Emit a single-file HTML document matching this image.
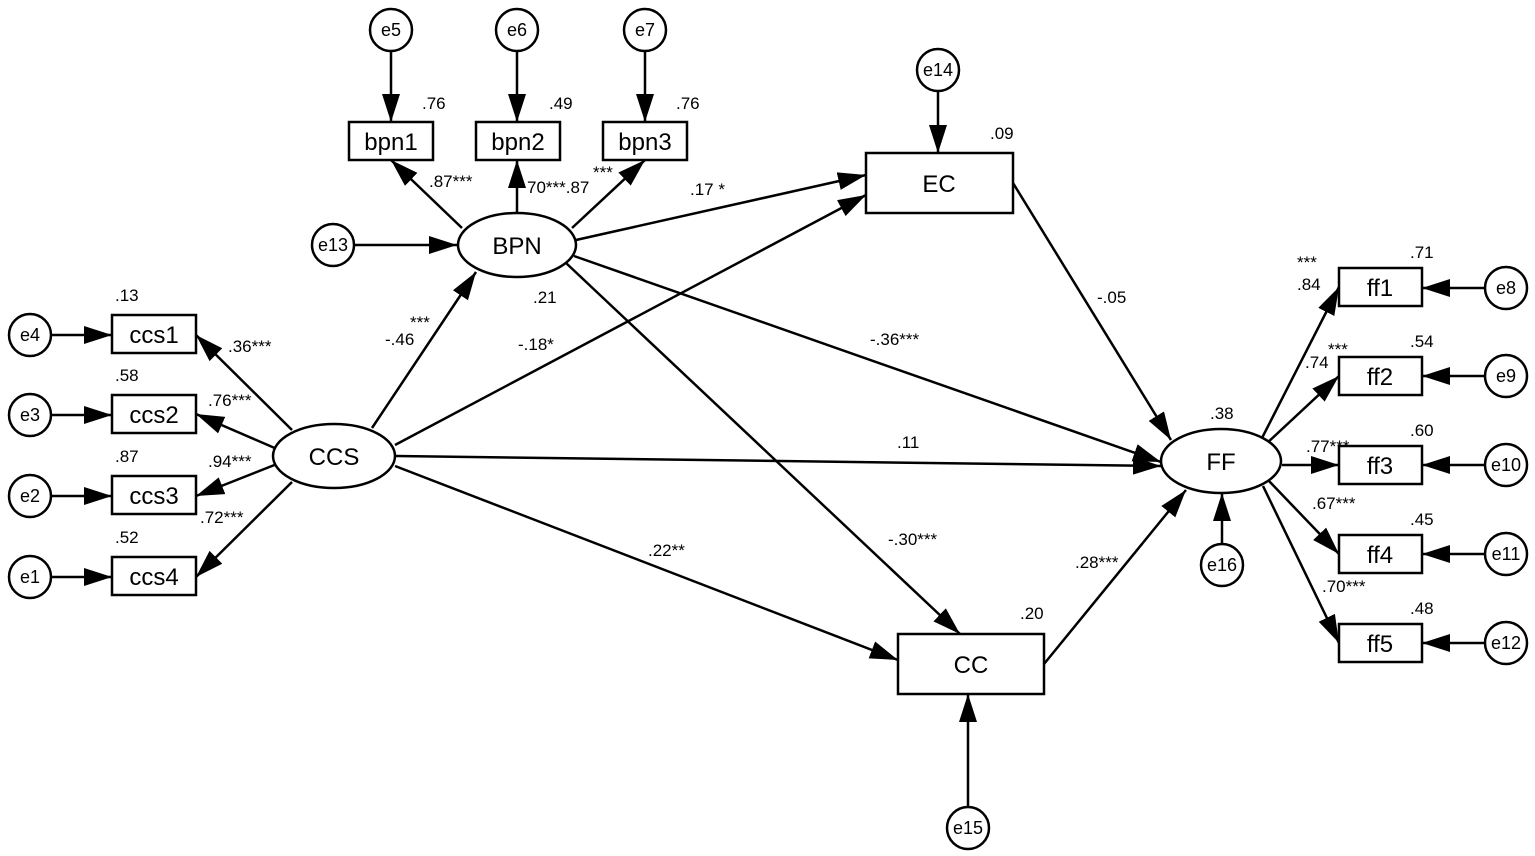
<!DOCTYPE html>
<html><head><meta charset="utf-8"><style>
html,body{margin:0;padding:0;background:#fff;}
svg{display:block;}
text{font-family:"Liberation Sans",Arial,sans-serif;fill:#000;}
.n{font-size:17px;}
.l{font-size:24px;text-anchor:middle;}
.e{font-size:18px;text-anchor:middle;}
.s{font-size:15px;}
</style></head><body>
<svg width="1535" height="856" viewBox="0 0 1535 856" xmlns="http://www.w3.org/2000/svg">
<defs>
<marker id="a" markerUnits="userSpaceOnUse" markerWidth="30" markerHeight="20" refX="28" refY="9" orient="auto">
<path d="M0,0 L28,9 L0,18 Z" fill="#000"/>
</marker>
</defs>
<g stroke="#000" stroke-width="2.5" fill="none" marker-end="url(#a)">
<!-- errors to bpn -->
<line x1="391" y1="51" x2="391" y2="122"/>
<line x1="517" y1="51" x2="517" y2="122"/>
<line x1="645" y1="51" x2="645" y2="122"/>
<line x1="938" y1="91" x2="938" y2="153"/>
<line x1="354" y1="245" x2="457" y2="245"/>
<!-- BPN to indicators -->
<line x1="462" y1="228" x2="391" y2="160"/>
<line x1="517" y1="213" x2="517" y2="160"/>
<line x1="572" y1="228" x2="645" y2="160"/>
<!-- structural -->
<line x1="576" y1="240" x2="866" y2="175"/>
<line x1="574" y1="256" x2="1161" y2="462"/>
<line x1="566" y1="263" x2="960" y2="634"/>
<line x1="372" y1="428" x2="476" y2="272"/>
<line x1="395" y1="445" x2="866" y2="195"/>
<line x1="396" y1="456" x2="1161" y2="466"/>
<line x1="395" y1="466" x2="898" y2="660"/>
<line x1="1013" y1="183" x2="1171" y2="440"/>
<line x1="1044" y1="664" x2="1186" y2="490"/>
<line x1="968" y1="806" x2="968" y2="694"/>
<line x1="1222" y1="544" x2="1222" y2="493"/>
<!-- CCS to indicators -->
<line x1="292" y1="430" x2="196" y2="335"/>
<line x1="277" y1="449" x2="196" y2="414"/>
<line x1="277" y1="464" x2="196" y2="496"/>
<line x1="292" y1="482" x2="196" y2="577"/>
<!-- e to ccs -->
<line x1="51" y1="335" x2="112" y2="335"/>
<line x1="51" y1="415" x2="112" y2="415"/>
<line x1="51" y1="496" x2="112" y2="496"/>
<line x1="51" y1="577" x2="112" y2="577"/>
<!-- FF to indicators -->
<line x1="1262" y1="438" x2="1339" y2="287"/>
<line x1="1266" y1="444" x2="1339" y2="376"/>
<line x1="1282" y1="465" x2="1339" y2="465"/>
<line x1="1268" y1="480" x2="1339" y2="554"/>
<line x1="1263" y1="486" x2="1339" y2="643"/>
<!-- e to ff -->
<line x1="1485" y1="288" x2="1422" y2="288"/>
<line x1="1485" y1="376" x2="1422" y2="376"/>
<line x1="1485" y1="465" x2="1422" y2="465"/>
<line x1="1485" y1="554" x2="1422" y2="554"/>
<line x1="1485" y1="643" x2="1422" y2="643"/>
</g>
<g stroke="#000" stroke-width="2.5" fill="#fff">
<circle cx="391" cy="30" r="21"/><circle cx="517" cy="30" r="21"/><circle cx="645" cy="30" r="21"/>
<circle cx="938" cy="70" r="21"/><circle cx="333" cy="245" r="21"/>
<circle cx="30" cy="335" r="21"/><circle cx="30" cy="415" r="21"/><circle cx="30" cy="496" r="21"/><circle cx="30" cy="577" r="21"/>
<circle cx="1506" cy="288" r="21"/><circle cx="1506" cy="376" r="21"/><circle cx="1506" cy="465" r="21"/><circle cx="1506" cy="554" r="21"/><circle cx="1506" cy="643" r="21"/>
<circle cx="1222" cy="565" r="21"/><circle cx="968" cy="828" r="21"/>
<rect x="349" y="122" width="84" height="38"/><rect x="476" y="122" width="84" height="38"/><rect x="603" y="122" width="84" height="38"/>
<rect x="866" y="153" width="147" height="60"/>
<rect x="898" y="634" width="146" height="60"/>
<rect x="112" y="315" width="84" height="38"/><rect x="112" y="395" width="84" height="38"/><rect x="112" y="476" width="84" height="38"/><rect x="112" y="557" width="84" height="38"/>
<rect x="1339" y="268" width="83" height="38"/><rect x="1339" y="357" width="83" height="38"/><rect x="1339" y="446" width="83" height="38"/><rect x="1339" y="535" width="83" height="38"/><rect x="1339" y="624" width="83" height="38"/>
<ellipse cx="517" cy="245" rx="59" ry="32"/>
<ellipse cx="334" cy="456" rx="61" ry="32"/>
<ellipse cx="1221" cy="461" rx="60" ry="32"/>
</g>
<g class="e">
<text x="391" y="36">e5</text><text x="517" y="36">e6</text><text x="645" y="36">e7</text>
<text x="938" y="76">e14</text><text x="333" y="251">e13</text>
<text x="30" y="341">e4</text><text x="30" y="421">e3</text><text x="30" y="502">e2</text><text x="30" y="583">e1</text>
<text x="1506" y="294">e8</text><text x="1506" y="382">e9</text><text x="1506" y="471">e10</text><text x="1506" y="560">e11</text><text x="1506" y="649">e12</text>
<text x="1222" y="571">e16</text><text x="968" y="834">e15</text>
</g>
<g class="l">
<text x="391" y="150">bpn1</text><text x="518" y="150">bpn2</text><text x="645" y="150">bpn3</text>
<text x="939" y="192">EC</text><text x="971" y="673">CC</text>
<text x="517" y="254">BPN</text><text x="334" y="465">CCS</text><text x="1221" y="470">FF</text>
<text x="154" y="343">ccs1</text><text x="154" y="423">ccs2</text><text x="154" y="504">ccs3</text><text x="154" y="585">ccs4</text>
<text x="1380" y="296">ff1</text><text x="1380" y="385">ff2</text><text x="1380" y="474">ff3</text><text x="1380" y="563">ff4</text><text x="1380" y="652">ff5</text>
</g>
<g class="n">
<text x="422" y="109">.76</text><text x="549" y="109">.49</text><text x="676" y="109">.76</text>
<text x="990" y="139">.09</text><text x="1020" y="619">.20</text><text x="1210" y="419">.38</text>
<text x="533" y="303">.21</text>
<text x="115" y="301">.13</text><text x="115" y="381">.58</text><text x="115" y="462">.87</text><text x="115" y="543">.52</text>
<text x="1410" y="258">.71</text><text x="1410" y="347">.54</text><text x="1410" y="436">.60</text><text x="1410" y="525">.45</text><text x="1410" y="614">.48</text>
<text x="429" y="187">.87***</text>
<text x="527" y="193">70***.87</text><text x="593" y="178">***</text>
<text x="690" y="195">.17 *</text>
<text x="385" y="345">-.46</text><text x="410" y="328">***</text>
<text x="518" y="350">-.18*</text>
<text x="870" y="345">-.36***</text>
<text x="1097" y="303">-.05</text>
<text x="897" y="448">.11</text>
<text x="648" y="556">.22**</text>
<text x="888" y="545">-.30***</text>
<text x="1075" y="568">.28***</text>
<text x="228" y="352">.36***</text>
<text x="208" y="406">.76***</text>
<text x="208" y="467">.94***</text>
<text x="200" y="523">.72***</text>
<text x="1297" y="268">***</text><text x="1297" y="290">.84</text>
<text x="1328" y="355">***</text><text x="1305" y="368">.74</text>
<text x="1306" y="452">.77***</text>
<text x="1312" y="509">.67***</text>
<text x="1322" y="592">.70***</text>
</g>
</svg>
</body></html>
